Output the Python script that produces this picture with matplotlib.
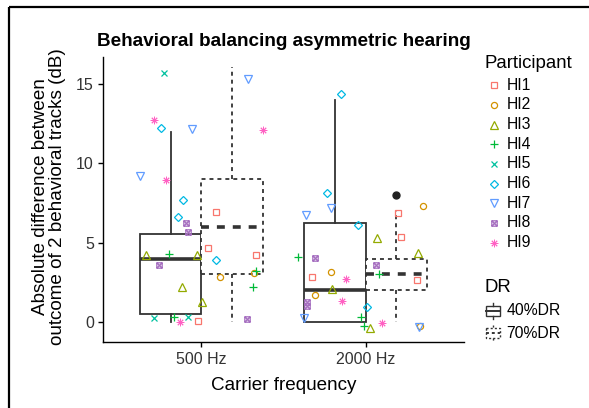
import matplotlib
matplotlib.use("Agg")
import matplotlib.pyplot as plt
from matplotlib.lines import Line2D
from matplotlib.patches import Rectangle
from matplotlib.path import Path
import numpy as np

plt.rcParams['font.family'] = ['Liberation Sans', 'DejaVu Sans']

# ---------------- data ----------------
participants = ['HI1', 'HI2', 'HI3', 'HI4', 'HI5', 'HI6', 'HI7', 'HI8', 'HI9']
freq_labels = ['500 Hz', '2000 Hz']
dr_labels = ['40%DR', '70%DR']

# box statistics, order: (500,40), (500,70), (2000,40), (2000,70)
box_freq = [0, 0, 1, 1]
box_dr = [0, 1, 0, 1]
box_whislo = [0.0, 0.0, 0.0, 0.0]
box_q1 = [0.5, 3.0, 0.0, 2.0]
box_med = [4.0, 6.0, 2.0, 3.0]
box_q3 = [5.55, 9.0, 6.25, 4.0]
box_whishi = [12.0, 16.05, 14.0, 7.0]
box_fliers = [[], [], [], [8.0]]

# individual points
pt_participant = [
    'HI5', 'HI9', 'HI6', 'HI7', 'HI7', 'HI9', 'HI6', 'HI6', 'HI8', 'HI8', 'HI1',
    'HI3', 'HI4', 'HI3', 'HI8', 'HI1', 'HI6', 'HI1', 'HI4', 'HI2', 'HI2', 'HI4',
    'HI3', 'HI3', 'HI5', 'HI4', 'HI5', 'HI9', 'HI1', 'HI8', 'HI7', 'HI9',
    'HI6', 'HI6', 'HI7', 'HI7', 'HI6', 'HI2', 'HI1', 'HI1', 'HI3', 'HI3', 'HI4',
    'HI8', 'HI8', 'HI4', 'HI2', 'HI1', 'HI9', 'HI1', 'HI3', 'HI2', 'HI9', 'HI8',
    'HI8', 'HI6', 'HI4', 'HI7', 'HI4', 'HI3', 'HI9', 'HI7', 'HI2']
pt_freq = [0] * 32 + [1] * 31
pt_offset = [
    -0.227, -0.288, -0.249, -0.058, -0.375, -0.216, -0.111, -0.145, -0.094, -0.080, 0.088,
    -0.338, -0.198, -0.029, -0.257, 0.040, 0.088, 0.334, 0.330, 0.318, 0.115, 0.316,
    -0.121, 0.001, -0.289, -0.166, -0.080, -0.129, -0.020, 0.277, 0.282, 0.377,
    -0.152, -0.233, -0.213, -0.365, -0.044, 0.350, 0.199, 0.216, 0.068, 0.317, -0.410,
    -0.310, 0.063, 0.083, -0.209, -0.328, -0.121, 0.313, -0.205, -0.310, -0.142, -0.359,
    -0.359, 0.010, -0.028, -0.377, -0.010, 0.027, 0.102, 0.327, 0.332]
pt_value = [
    15.7, 12.7, 12.24, 12.16, 9.22, 8.95, 7.69, 6.6, 6.26, 5.65, 6.91,
    4.2, 4.3, 4.2, 3.59, 4.64, 3.89, 4.24, 3.21, 3.11, 2.84, 2.23,
    2.19, 1.24, 0.27, 0.32, 0.32, 0.0, 0.08, 0.17, 15.3, 12.1,
    14.39, 8.11, 7.16, 6.72, 6.11, 7.29, 6.89, 5.36, 5.29, 4.33, 4.12,
    4.05, 3.59, 3.0, 3.17, 2.81, 2.69, 2.63, 2.06, 1.68, 1.30, 1.28,
    1.03, 0.93, 0.32, 0.23, -0.25, -0.40, -0.04, -0.30, -0.25]

# ---------------- styles ----------------
colors = ['#F8766D', '#D39200', '#93AA00', '#00BA38', '#00C19F',
          '#00B9E3', '#619CFF', '#A66FC0', '#FF61C3']
sqx = Path([(-1, -1), (1, -1), (1, 1), (-1, 1), (-1, -1), (-1, -1), (1, 1), (-1, 1), (1, -1)],
           [Path.MOVETO, Path.LINETO, Path.LINETO, Path.LINETO, Path.CLOSEPOLY,
            Path.MOVETO, Path.LINETO, Path.MOVETO, Path.LINETO])
markers = ['s', 'o', '^', '+', 'x', 'D', 'v', sqx, (8, 2, 0)]
msizes = [4.0, 4.4, 5.2, 5.6, 4.6, 4.0, 5.4, 3.9, 5.4]
mews = [0.9, 0.9, 0.9, 0.9, 0.9, 0.9, 0.9, 0.9, 0.65]
filled = [False, False, False, True, True, False, False, False, True]

W, H = 589, 408
fig = plt.figure(figsize=(W / 100, H / 100), dpi=100)
ax = fig.add_axes([103 / W, 1 - 342 / H, (464 - 103) / W, (342 - 57) / H])
ax.set_xlim(0.4, 2.6)
ax.set_ylim(-1.26, 16.7)

boxc = '#333333'
bw = 0.375
for i in range(4):
    pos = box_freq[i] + 1 + (box_dr[i] - 0.5) * bw
    ls = '-' if box_dr[i] == 0 else (0, (2.2, 2.2))
    st = [dict(whislo=box_whislo[i], q1=box_q1[i], med=box_med[i], q3=box_q3[i],
               whishi=box_whishi[i], fliers=box_fliers[i])]
    ax.bxp(st, positions=[pos], widths=[bw], showcaps=False, showfliers=True,
           patch_artist=True,
           boxprops=dict(facecolor='white', edgecolor=boxc, linewidth=1.3, linestyle=ls),
           whiskerprops=dict(color=boxc, linewidth=1.3, linestyle=ls),
           medianprops=dict(color=boxc, linewidth=2.6, linestyle=ls, solid_capstyle='butt'),
           flierprops=dict(marker='o', markerfacecolor='#222222', markeredgecolor='#222222',
                           markersize=5.0),
           manage_ticks=False)

for k, p in enumerate(participants):
    idx = [j for j, q in enumerate(pt_participant) if q == p]
    xs = [pt_freq[j] + 1 + pt_offset[j] for j in idx]
    ys = [pt_value[j] for j in idx]
    if filled[k]:
        ax.plot(xs, ys, linestyle='none', marker=markers[k], ms=msizes[k],
                color=colors[k], mew=mews[k], zorder=5)
    else:
        ax.plot(xs, ys, linestyle='none', marker=markers[k], ms=msizes[k],
                markerfacecolor='none', markeredgecolor=colors[k], mew=mews[k], zorder=5)

ax.set_xticks([1, 2])
ax.set_xticklabels(freq_labels)
ax.set_yticks([0, 5, 10, 15])
ax.set_yticklabels(['0', '5', '10', '15'])
for s in ['top', 'right']:
    ax.spines[s].set_visible(False)
for s in ['left', 'bottom']:
    ax.spines[s].set_linewidth(1.0)
    ax.spines[s].set_color('black')
ax.tick_params(axis='both', length=3.5, width=1.0, color='black',
               labelsize=11.5, labelcolor='#333333')
ax.tick_params(axis='y', pad=3)
ax.tick_params(axis='x', pad=4)

# titles
fig.text(283.5 / W, 1 - 42 / H, 'Behavioral balancing asymmetric hearing',
         ha='center', va='center', fontsize=13.6, fontweight='bold')
fig.text(283.5 / W, 1 - 385 / H, 'Carrier frequency', ha='center', va='center',
         fontsize=13.6)
fig.text(49 / W, 1 - 197 / H,
         'Absolute difference between\noutcome of 2 behavioral tracks (dB)',
         ha='center', va='center', rotation=90, fontsize=13.6, linespacing=0.95)

# overlay for legend and frame
lax = fig.add_axes([0, 0, 1, 1])
lax.set_xlim(0, W)
lax.set_ylim(H, 0)
lax.axis('off')

lax.plot([9, W], [7, 7], color='black', lw=1.6, solid_capstyle='butt')
lax.plot([9, 9], [7, H], color='black', lw=1.6, solid_capstyle='butt')

lax.text(485, 64, 'Participant', ha='left', va='center', fontsize=13.4)
for k, p in enumerate(participants):
    y = 85.3 + k * 19.65
    if filled[k]:
        lax.plot([493.7], [y], linestyle='none', marker=markers[k], ms=msizes[k],
                 color=colors[k], mew=mews[k])
    else:
        lax.plot([493.7], [y], linestyle='none', marker=markers[k], ms=msizes[k],
                 markerfacecolor='none', markeredgecolor=colors[k], mew=mews[k])
    lax.text(506.5, y, p, ha='left', va='center', fontsize=11.3)

lax.text(485, 288, 'DR', ha='left', va='center', fontsize=13.4)
for k, lab in enumerate(dr_labels):
    yc = 310.5 + k * 22.5
    ls = '-' if k == 0 else (0, (1.5, 1.5))
    lax.add_patch(Rectangle((486, yc - 5), 14, 10, facecolor='white', edgecolor=boxc,
                            lw=1.0, linestyle=ls))
    lax.plot([486, 500], [yc, yc], color=boxc, lw=1.4, linestyle=ls)
    lax.plot([493, 493], [yc - 8, yc - 5], color=boxc, lw=1.0, linestyle=ls)
    lax.plot([493, 493], [yc + 5, yc + 8], color=boxc, lw=1.0, linestyle=ls)
    lax.text(506.5, yc, lab, ha='left', va='center', fontsize=11.3)

fig.savefig('out.png', dpi=100)
